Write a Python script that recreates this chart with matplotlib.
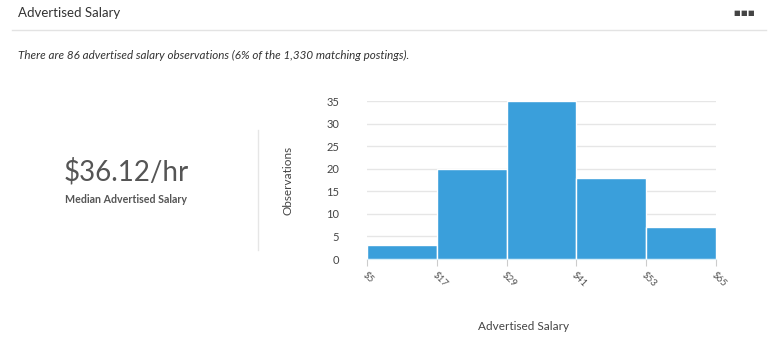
import matplotlib.pyplot as plt
import numpy as np

# Histogram data
bin_edges = [5, 17, 29, 41, 53, 65]
counts = [3, 20, 35, 18, 7]
edge_labels = ['$5', '$17', '$29', '$41', '$53', '$65']
y_ticks = [0, 5, 10, 15, 20, 25, 30, 35]

plt.rcParams['font.family'] = ['Lato', 'DejaVu Sans']

W, H = 779, 358
fig = plt.figure(figsize=(W / 100, H / 100), dpi=100)

def fx(px):
    return px / W

def fy(py):
    return 1 - py / H

# header
fig.text(fx(18), fy(13), 'Advertised Salary', fontsize=9.5, color='#333333', va='center')
for dx in (737, 744, 751):
    fig.text(fx(dx), fy(12), '\u25A0', fontsize=5, color='#444444', va='center', ha='center')
fig.add_artist(plt.Line2D([fx(12), fx(766)], [fy(30), fy(30)], color='#e3e3e3', lw=1))
fig.text(fx(18), fy(55), 'There are 86 advertised salary observations (6% of the 1,330 matching postings).',
         fontsize=8.4, style='italic', color='#333333', va='center')

# median block
fig.text(fx(126), fy(172), '$36.12/hr', fontsize=20, color='#555555', ha='center', va='center')
fig.text(fx(126), fy(199), 'Median Advertised Salary', fontsize=7.7, color='#555555',
         ha='center', va='center', fontweight='bold')
fig.add_artist(plt.Line2D([fx(258), fx(258)], [fy(130), fy(250)], color='#e6e6e6', lw=1))

# histogram
ax = fig.add_axes([fx(367), fy(259), fx(716) - fx(367), fy(101) - fy(259)])
lefts = np.array(bin_edges[:-1])
widths = np.diff(bin_edges)
ax.bar(lefts, counts, width=widths, align='edge', color='#3a9fdb', edgecolor='white', linewidth=1, zorder=3)
ax.set_xlim(bin_edges[0], bin_edges[-1])
ax.set_ylim(0, 35)
ax.set_yticks(y_ticks)
ax.set_xticks(bin_edges)
ax.set_xticklabels(edge_labels, rotation=-45, ha='left', rotation_mode='anchor',
                   fontsize=7, color='#555555')
ax.tick_params(axis='y', length=0, pad=20, labelsize=8, labelcolor='#444444')
ax.tick_params(axis='x', length=5, color='#cccccc', pad=3)
ax.grid(axis='y', color='#e6e6e6', lw=1, zorder=0)
for s in ['top', 'right', 'left']:
    ax.spines[s].set_visible(False)
ax.spines['bottom'].set_color('#d8eef8')

fig.text(fx(288), fy(180), 'Observations', rotation=90, fontsize=8.5, color='#444444',
         ha='center', va='center')
fig.text(fx(524), fy(327), 'Advertised Salary', fontsize=8.5, color='#444444',
         ha='center', va='center')

fig.savefig('out.png', dpi=100)
